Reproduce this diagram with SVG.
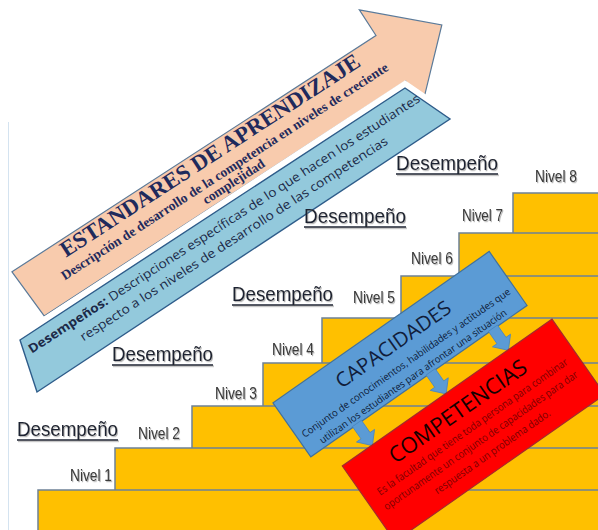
<svg xmlns="http://www.w3.org/2000/svg" width="598" height="530" viewBox="0 0 598 530">
<defs>
<style>
.step{fill:#FFC000;stroke:#6E8196;stroke-width:1.5}
.niv{font-family:"Liberation Sans",Arial,sans-serif;font-size:17px;fill:#3a3a3a}
.des{font-family:"Liberation Sans",Arial,sans-serif;font-size:21px;fill:#1e2330}
.ul{stroke:#1e2330;stroke-width:1.6}
.ser{font-family:"Liberation Serif","Times New Roman",serif;font-weight:bold;fill:#1F2A5C}
.cal{font-family:"Open Sans","Noto Sans",sans-serif}
.conn{fill:#5B9BD5;stroke:#4A86C0;stroke-width:0.8}
.red{font-size:10.5px;fill:#7a0000}
</style>
<filter id="sh" x="-10%" y="-30%" width="130%" height="170%">
<feDropShadow dx="1" dy="1.2" stdDeviation="0.7" flood-color="#7a7a7a" flood-opacity="0.55"/>
</filter>
</defs>
<rect width="598" height="530" fill="#ffffff"/>
<line x1="8.5" y1="122" x2="8.5" y2="530" stroke="#d4e3f0" stroke-width="1"/>

<g id="steps">
<rect id="step8" class="step" x="513" y="193" width="100" height="350"/>
<rect id="step7" class="step" x="459" y="233" width="150" height="310"/>
<rect id="step6" class="step" x="401" y="276" width="210" height="270"/>
<rect id="step5" class="step" x="322" y="318" width="290" height="230"/>
<rect id="step4" class="step" x="263" y="363" width="350" height="190"/>
<rect id="step3" class="step" x="192" y="406" width="420" height="150"/>
<rect id="step2" class="step" x="115" y="448" width="500" height="100"/>
<rect id="step1" class="step" x="38" y="490" width="580" height="60"/>
</g>

<g id="estandares">
<g transform="rotate(-33)">
<path d="M -138,234.5 L 296,234.5 L 296,204 L 357,261.5 L 296,319 L 296,289 L -135,289 Z" fill="#F8CBAD" stroke="#5B7A99" stroke-width="1.2"/>
<text class="ser" x="91.5" y="252" font-size="22.5" text-anchor="middle" textLength="353" lengthAdjust="spacingAndGlyphs">ESTANDARES DE APRENDIZAJE</text>
<text class="ser" x="95" y="270.5" font-size="13.5" text-anchor="middle" textLength="387" lengthAdjust="spacingAndGlyphs">Descripción de desarrollo de la competencia en niveles de creciente</text>
<text class="ser" x="97" y="284" font-size="13.5" text-anchor="middle">complejidad</text>
</g>
</g>

<g id="desempenos">
<polygon points="20,340 405,88 450,119 37,392" fill="none" stroke="#ffffff" stroke-width="13" stroke-linejoin="miter"/>
<polygon points="20,340 405,88 450,119 37,392" fill="#93C9DC" stroke="#2E5C8A" stroke-width="1.4"/>
<g transform="rotate(-33)" class="cal" fill="#1c2a48">
<text x="66" y="314" font-size="12.5" text-anchor="middle" textLength="464" lengthAdjust="spacingAndGlyphs"><tspan font-weight="bold">Desempeños:</tspan> Descripciones específicas de lo que hacen los estudiantes</text>
<text x="66" y="332" font-size="12.5" text-anchor="middle" textLength="364" lengthAdjust="spacingAndGlyphs">respecto a los niveles de desarrollo de las competencias</text>
</g>
</g>

<g id="capacidades" transform="translate(400,354.2) rotate(-35)">
<rect x="-132" y="-33" width="264" height="66" fill="#5B9BD5" stroke="#41719C" stroke-width="1.2"/>
<text class="cal" x="0" y="-5" font-size="20" fill="#111d3a" text-anchor="middle" textLength="136" lengthAdjust="spacingAndGlyphs">CAPACIDADES</text>
<text class="cal" x="0" y="14" font-size="10" fill="#0d1b3a" text-anchor="middle" textLength="252" lengthAdjust="spacingAndGlyphs">Conjunto de conocimientos, habilidades y actitudes que</text>
<text class="cal" x="-2" y="29" font-size="10" fill="#0d1b3a" text-anchor="middle" textLength="226" lengthAdjust="spacingAndGlyphs">utilizan los estudiantes para afrontar una situación</text>
</g>

<g id="connectors" transform="translate(400,354.2) rotate(-35)">
<polygon class="conn" points="-80.5,32 -69.5,32 -69.5,47 -64,47 -75,59 -86,47 -80.5,47"/>
<polygon class="conn" points="9.5,32 20.5,32 20.5,47 26,47 15,59 4,47 9.5,47"/>
<polygon class="conn" points="85.5,32 96.5,32 96.5,47 102,47 91,59 80,47 85.5,47"/>
</g>

<g id="competencias" transform="translate(342.3,466) rotate(-35)">
<rect x="0" y="0" width="256" height="92" fill="#FF0000" stroke="#A52A2A" stroke-width="1.2"/>
<text class="cal" x="126" y="29" font-size="22" fill="#140000" text-anchor="middle" textLength="163" lengthAdjust="spacingAndGlyphs">COMPETENCIAS</text>
<text class="cal red" x="129" y="46" text-anchor="middle" textLength="230" lengthAdjust="spacingAndGlyphs">Es la facultad que tiene toda persona para combinar</text>
<text class="cal red" x="128" y="62" text-anchor="middle" textLength="234" lengthAdjust="spacingAndGlyphs">oportunamente un conjunto de capacidades para dar</text>
<text class="cal red" x="131" y="78" text-anchor="middle" textLength="139" lengthAdjust="spacingAndGlyphs">respuesta a un problema dado.</text>
</g>

<g id="niveles" filter="url(#sh)">
<text class="niv" x="70" y="481" textLength="42" lengthAdjust="spacingAndGlyphs">Nivel 1</text>
<text class="niv" x="138" y="439" textLength="42" lengthAdjust="spacingAndGlyphs">Nivel 2</text>
<text class="niv" x="215" y="399" textLength="42" lengthAdjust="spacingAndGlyphs">Nivel 3</text>
<text class="niv" x="272" y="355" textLength="42" lengthAdjust="spacingAndGlyphs">Nivel 4</text>
<text class="niv" x="353" y="303" textLength="42" lengthAdjust="spacingAndGlyphs">Nivel 5</text>
<text class="niv" x="411" y="264" textLength="42" lengthAdjust="spacingAndGlyphs">Nivel 6</text>
<text class="niv" x="462" y="221" textLength="41" lengthAdjust="spacingAndGlyphs">Nivel 7</text>
<text class="niv" x="535" y="182" textLength="42" lengthAdjust="spacingAndGlyphs">Nivel 8</text>
</g>

<g id="desempeno-labels" filter="url(#sh)">
<text class="des" x="17" y="436" textLength="101" lengthAdjust="spacingAndGlyphs">Desempeño</text>
<line class="ul" x1="17" y1="440" x2="118" y2="440"/>
<text class="des" x="112" y="361" textLength="101" lengthAdjust="spacingAndGlyphs">Desempeño</text>
<line class="ul" x1="112" y1="365" x2="213" y2="365"/>
<text class="des" x="232" y="301" textLength="101" lengthAdjust="spacingAndGlyphs">Desempeño</text>
<line class="ul" x1="232" y1="305" x2="333" y2="305"/>
<text class="des" x="304" y="223" textLength="102" lengthAdjust="spacingAndGlyphs">Desempeño</text>
<line class="ul" x1="304" y1="227" x2="406" y2="227"/>
<text class="des" x="396" y="170" textLength="102" lengthAdjust="spacingAndGlyphs">Desempeño</text>
<line class="ul" x1="396" y1="174" x2="498" y2="174"/>
</g>
</svg>
